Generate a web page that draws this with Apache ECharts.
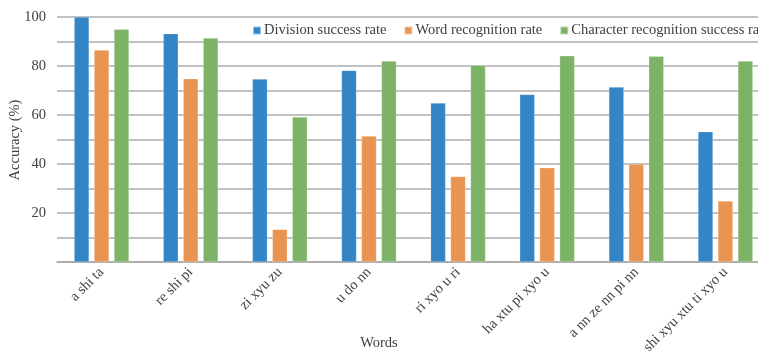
<!DOCTYPE html>
<html>
<head>
<meta charset="utf-8">
<script src="https://cdn.jsdelivr.net/npm/echarts@6/dist/echarts.min.js"></script>
<style>
  html, body { margin: 0; padding: 0; background: #fff; }
  #chart { width: 758px; height: 351px; }
</style>
</head>
<body>
<div id="chart"></div>
<script>
const words = ["a shi ta", "re shi pi", "zi xyu zu", "u do nn", "ri xyo u ri", "ha xtu pi xyo u", "a nn ze nn pi nn", "shi xyu xtu ti xyo u"];
const divisionRate = [100, 93.2, 74.7, 78.2, 64.9, 68.4, 71.4, 53.2];
const wordRate = [86.5, 74.8, 13.3, 51.4, 34.9, 38.5, 40, 24.9];
const charRate = [95, 91.4, 59.2, 82, 80.3, 84.2, 84, 82];
const yLabels = [20, 40, 60, 80, 100];

const font = "'Liberation Serif', 'Times New Roman', serif";
const chart = echarts.init(document.getElementById("chart"));

chart.setOption({
  animation: false,
  textStyle: { fontFamily: font },
  title: {
    text: "Words",
    left: "center",
    top: 331,
    textStyle: { fontFamily: font, fontSize: 14.5, fontWeight: "normal", color: "#404040" },
  },
  // y axis title, placed by hand (axis name kept drifting to the edge)
  graphic: [
    {
      type: "text",
      x: 15,
      y: 140,
      rotation: Math.PI / 2,
      style: {
        text: "Accuracy (%)",
        font: "14.5px " + font,
        fill: "#404040",
        align: "center",
        verticalAlign: "middle",
      },
    },
  ],
  legend: {
    left: 252,
    top: 23,
    width: 600,
    padding: 0,
    icon: "rect",
    itemWidth: 8,
    itemHeight: 8,
    itemGap: 17,
    backgroundColor: "#fff",
    textStyle: { fontFamily: font, fontSize: 14.5, color: "#404040", padding: [0, 0, 0, -2] },
    data: ["Division success rate", "Word recognition rate", "Character recognition success rate"],
  },
  grid: { left: 57, width: 713, top: 17, height: 245, outerBoundsMode: "none", containLabel: false },
  xAxis: {
    type: "category",
    data: words,
    axisLine: { lineStyle: { color: "#a6a6a6", width: 1.5 } },
    axisTick: { show: false },
    axisLabel: { rotate: 45, margin: 8, fontFamily: font, fontSize: 14.5, color: "#404040", interval: 0 },
  },
  yAxis: {
    type: "value",
    min: 0,
    max: 100,
    interval: 10,
    axisLine: { show: false },
    axisTick: { show: false },
    splitLine: { lineStyle: { color: "#acacac", width: 1.5 } },
    axisLabel: {
      margin: 11,
      fontFamily: font,
      fontSize: 14.5,
      color: "#404040",
      formatter: (v) => (yLabels.includes(v) ? String(v) : ""),
    },
  },
  series: [
    {
      name: "Division success rate",
      type: "bar",
      data: divisionRate,
      barWidth: 15,
      barGap: "33%",
      itemStyle: { color: "#3385c6", borderColor: "rgba(255,255,255,0.5)", borderWidth: 0.5 },
    },
    {
      name: "Word recognition rate",
      type: "bar",
      data: wordRate,
      barWidth: 15,
      barGap: "33%",
      itemStyle: { color: "#e99451", borderColor: "rgba(255,255,255,0.5)", borderWidth: 0.5 },
    },
    {
      name: "Character recognition success rate",
      type: "bar",
      data: charRate,
      barWidth: 15,
      barGap: "33%",
      itemStyle: { color: "#7cb366", borderColor: "rgba(255,255,255,0.5)", borderWidth: 0.5 },
    },
  ],
});
</script>
</body>
</html>
